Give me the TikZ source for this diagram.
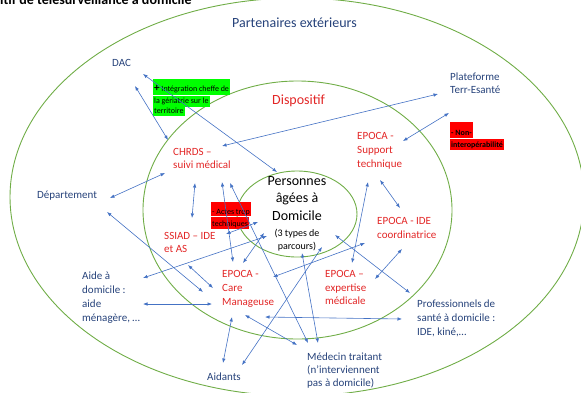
\documentclass[tikz,border=0pt]{standalone}
\usepackage{fontspec}
\setmainfont{Carlito}
\usetikzlibrary{arrows.meta,shapes.geometric}
\definecolor{navy}{RGB}{38,66,122}
\definecolor{redtxt}{RGB}{226,38,38}
\definecolor{ringc}{RGB}{112,173,71}
\definecolor{linkc}{RGB}{68,114,196}
\definecolor{hlgreen}{RGB}{0,255,0}
\definecolor{hlred}{RGB}{255,0,0}

\begin{document}
\begin{tikzpicture}[x=1pt,y=-1pt,
  ringnode/.style={draw=ringc, line width=0.9pt, ellipse, inner sep=0pt},
  partner/.style={text=navy, inner sep=0pt, align=left},
  unit/.style={text=redtxt, inner sep=0pt, align=left},
  link/.style={draw=linkc, line width=0.6pt, {Latex[length=4.5pt,width=3.5pt]}-{Latex[length=4.5pt,width=3.5pt]}},
  hl/.style={inner xsep=1pt, inner ysep=0pt, anchor=north west, text=black},
]
\useasboundingbox (0,0) rectangle (581,392);

% the three nested circles
\node[ringnode, minimum width=574pt, minimum height=398pt] (outer) at (297,197) {};
\node[ringnode, minimum width=309pt, minimum height=258pt] (middle) at (297.5,210) {};
\node[ringnode, minimum width=120pt, minimum height=86pt] (inner) at (297,214) {};

% headings
\node[anchor=base west, inner sep=0pt, font=\fontsize{14}{17}\selectfont\bfseries] (title) at (0,4) {itif de télésurveillance à domicile};
\node[anchor=base west, inner sep=0pt, text=navy, font=\fontsize{14}{17}\selectfont] (ext) at (232,27) {Partenaires extérieurs};
\node[anchor=base west, inner sep=0pt, text=redtxt, font=\fontsize{14}{17}\selectfont] (disp) at (272,104) {Dispositif};

% centre
\node[anchor=north, inner sep=0pt, align=center, font=\fontsize{14}{17.5}\selectfont] (pers) at (297,176)
  {Personnes\\âgées à\\Domicile\\[-1.5pt]{\fontsize{10}{13}\selectfont (3 types de}\\[-4.5pt]{\fontsize{10}{13}\selectfont parcours)}};

% external partners
\node[partner, anchor=west, font=\fontsize{11}{14}\selectfont] (dac) at (112,63) {DAC};
\node[partner, anchor=north west, font=\fontsize{11}{13}\selectfont] (plat) at (450,72.5) {Plateforme\\Terr-Esanté};
\node[partner, anchor=west, font=\fontsize{11}{14}\selectfont] (dept) at (37,196) {Département};
\node[partner, anchor=north west, font=\fontsize{11}{13.8}\selectfont] (aide) at (82,272) {Aide à\\domicile :\\aide\\ménagère, …};
\node[partner, anchor=north west, font=\fontsize{11}{14}\selectfont] (prof) at (417,299.5) {\hbox to 78pt{Professionnels\hfil de}\\santé à domicile :\\IDE, kiné,…};
\node[partner, anchor=west, font=\fontsize{11}{14}\selectfont] (aidants) at (207,377) {Aidants};
\node[partner, anchor=north west, font=\fontsize{11}{13}\selectfont] (med) at (307,352.5) {Médecin traitant\\(n’interviennent\\pas à domicile)};

% units of the scheme
\node[unit, anchor=north west, font=\fontsize{11}{13.5}\selectfont] (chrds) at (173,148) {CHRDS –\\suivi médical};
\node[unit, anchor=north west, font=\fontsize{11}{14}\selectfont] (supp) at (357,132.5) {EPOCA -\\Support\\technique};
\node[unit, anchor=north west, font=\fontsize{11}{13}\selectfont] (ssiad) at (164,232.5) {SSIAD – IDE\\et AS};
\node[unit, anchor=north west, font=\fontsize{11}{14}\selectfont] (idec) at (377,217.5) {EPOCA - IDE\\coordinatrice};
\node[unit, anchor=north west, font=\fontsize{11}{14}\selectfont] (care) at (222,270.5) {EPOCA -\\Care\\Manageuse};
\node[unit, anchor=north west, font=\fontsize{11}{13.5}\selectfont] (expe) at (325,270.5) {EPOCA –\\expertise\\médicale};

% highlighted remarks
\node[hl, fill=hlgreen, text height=12pt, text depth=4pt, font=\fontsize{8}{10}\selectfont] (gb1) at (153,79) {{\fontsize{11}{11}\selectfont\bfseries +} Intégration cheffe de};
\node[hl, fill=hlgreen, text height=8pt, text depth=3pt, font=\fontsize{8}{10}\selectfont] (gb2) at (gb1.south west) {la gériatrie sur le};
\node[hl, fill=hlgreen, text height=6.5pt, text depth=2.5pt, font=\fontsize{8}{10}\selectfont] (gb3) at (gb2.south west) {territoire};

\node[hl, fill=hlred, text height=12pt, text depth=2pt, font=\fontsize{8}{10}\selectfont] (ra1) at (211,202) {- Actes trop};
\node[hl, fill=hlred, text height=9.5pt, text depth=2.5pt, font=\fontsize{8}{10}\selectfont] (ra2) at (ra1.south west) {techniques};

\node[hl, fill=hlred, text height=13pt, text depth=3pt, font=\fontsize{8}{10}\selectfont\bfseries] (rn1) at (450,122) {- Non-};
\node[hl, fill=hlred, text height=9pt, text depth=2pt, font=\fontsize{8}{10}\selectfont\bfseries] (rn2) at (rn1.south west) {interopérabilité};

% links
\draw[link] ([shift={(31,11)}]dac.west) -- ([shift={(-20,-4)}]pers.north);
\draw[link] ([shift={(23,23)}]dac.west) -- ([shift={(-5,-8)}]chrds.north west);
\draw[link] ([shift={(-12,21.5)}]plat.north west) -- ([shift={(49,-2)}]chrds.north west);
\draw[link] ([shift={(-1,40.5)}]plat.north west) -- ([shift={(46,8.5)}]supp.north west);
\draw[link] ([shift={(73,2)}]dept.west) -- ([shift={(-8,25)}]chrds.north west);
\draw[link] ([shift={(70,16)}]dept.west) -- ([shift={(-19,21.5)}]care.north west);
\draw[link] ([shift={(22,35)}]chrds.north west) -- ([shift={(28,-14.5)}]ssiad.north west);
\draw[link] ([shift={(49,34)}]chrds.north west) -- ([shift={(11,-8.5)}]care.north west);
\draw[link] ([shift={(57,35)}]chrds.north west) -- ([shift={(1,-9.5)}]med.north west);
\draw[link] ([shift={(62,1.5)}]ssiad.north west) -- ([shift={(-39,46)}]pers.north);
\draw[link] ([shift={(21,-7.5)}]care.north west) -- ([shift={(-33,57)}]pers.north);
\draw[link] ([shift={(61,6)}]aide.north west) -- ([shift={(-30,60)}]pers.north);
\draw[link] ([shift={(24,32.5)}]ssiad.north west) -- ([shift={(-9,17.5)}]care.north west);
\draw[link] ([shift={(61,32)}]aide.north west) -- ([shift={(-10,33.5)}]care.north west);
\draw[link] ([shift={(10,46.5)}]care.north west) -- ([shift={(16,-14)}]aidants.west);
\draw[link] ([shift={(35,-12)}]aidants.west) -- ([shift={(25,71)}]pers.north);
\draw[link] ([shift={(23,44.5)}]care.north west) -- ([shift={(-10,-7.5)}]med.north west);
\draw[link] ([shift={(5,77)}]pers.north) -- ([shift={(11,-9.5)}]med.north west);
\draw[link] ([shift={(43,46.5)}]care.north west) -- ([shift={(-15,19.5)}]prof.north west);
\draw[link] ([shift={(38,59)}]pers.north) -- ([shift={(-7,-6.5)}]prof.north west);
\draw[link] ([shift={(51,6.5)}]care.north west) -- ([shift={(-12,25.5)}]idec.north west);
\draw[link] ([shift={(23,47.5)}]supp.north west) -- ([shift={(23,-9.5)}]idec.north west);
\draw[link] ([shift={(11,49.5)}]supp.north west) -- ([shift={(27,-7.5)}]expe.north west);
\draw[link] ([shift={(50,8.5)}]expe.north west) -- ([shift={(25,31.5)}]idec.north west);
\end{tikzpicture}
\end{document}
